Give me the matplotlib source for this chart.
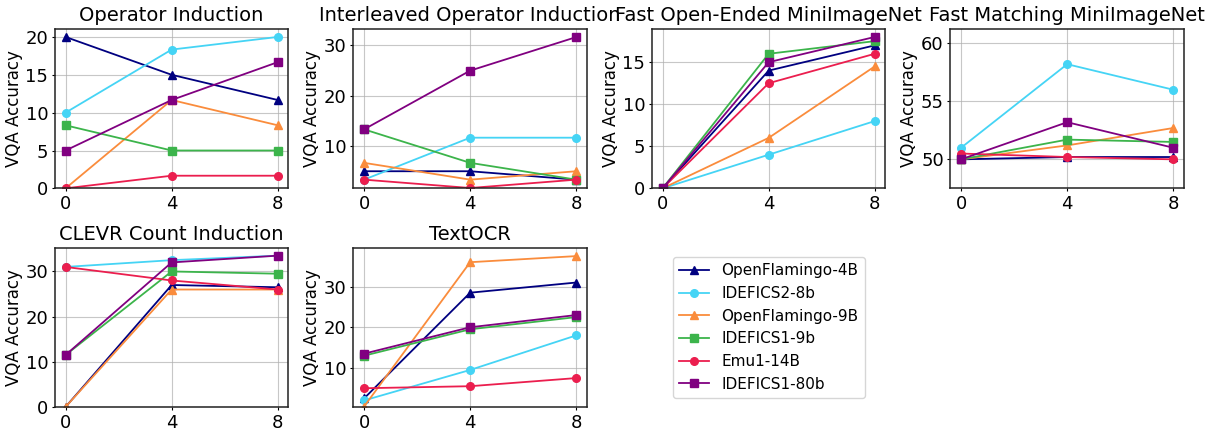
import matplotlib.pyplot as plt
from matplotlib.ticker import MultipleLocator

shots = [0, 4, 8]
models = ['OpenFlamingo-4B', 'IDEFICS2-8b', 'OpenFlamingo-9B',
          'IDEFICS1-9b', 'Emu1-14B', 'IDEFICS1-80b']
colors = ['#000080', '#45d4f5', '#fa8c3c', '#3cb44b', '#eb1e4e', '#800080']
markers = ['^', 'o', '^', 's', 'o', 's']

titles = ['Operator Induction', 'Interleaved Operator Induction',
          'Fast Open-Ended MiniImageNet', 'Fast Matching MiniImageNet',
          'CLEVR Count Induction', 'TextOCR']

# rows = models in the order above
operator_induction = [[20, 15, 11.67], [10, 18.33, 20], [0, 11.67, 8.33],
                      [8.33, 5, 5], [0, 1.67, 1.67], [5, 11.67, 16.67]]
interleaved_operator = [[5, 5, 3.33], [3.33, 11.67, 11.67], [6.67, 3.33, 5],
                        [13.33, 6.67, 3.33], [3.33, 1.67, 3.33], [13.33, 25, 31.67]]
fast_open_ended = [[0, 14, 17], [0, 4, 8], [0, 6, 14.5],
                   [0, 16, 17.5], [0, 12.5, 16], [0, 15, 18]]
fast_matching = [[50, 50.2, 50.2], [51, 58.2, 56], [50, 51.2, 52.7],
                 [50, 51.7, 51.5], [50.5, 50.2, 50], [50, 53.2, 51]]
clevr_count = [[0, 27, 26.5], [31, 32.5, 33.5], [0, 26, 26],
               [11.5, 30, 29.5], [31, 28, 26], [11.5, 32, 33.5]]
textocr = [[2.5, 28.5, 31], [2, 9.5, 18], [0.5, 36, 37.5],
           [13, 19.5, 22.5], [5, 5.5, 7.5], [13.5, 20, 23]]

all_data = [operator_induction, interleaved_operator, fast_open_ended,
            fast_matching, clevr_count, textocr]
ylims = [(0, 21), (1.6, 33.2), (0, 18.9), (47.5, 61.2), (0, 35.2), (0.4, 39.5)]
ysteps = [5, 10, 5, 5, 10, 10]

fig, axes = plt.subplots(2, 4, figsize=(12.13, 4.32), dpi=100)
plt.subplots_adjust(left=0.0453, right=0.976, top=0.932, bottom=0.058,
                    wspace=0.279, hspace=0.375)
axes = axes.flatten()

for k in range(6):
    ax = axes[k]
    for m in range(len(models)):
        ax.plot(shots, all_data[k][m], color=colors[m], marker=markers[m],
                label=models[m], linewidth=1.3, markersize=5.5)
    ax.set_title(titles[k], fontsize=14)
    ax.set_ylabel('VQA Accuracy', fontsize=12, labelpad=2)
    ax.set_xticks(shots)
    ax.yaxis.set_major_locator(MultipleLocator(ysteps[k]))
    ax.tick_params(labelsize=13, length=2.5, pad=2.3)
    ax.set_ylim(ylims[k])
    ax.grid(True, color='#b0b0b0', alpha=0.7)
    for s in ax.spines.values():
        s.set_color('#222222')
        s.set_linewidth(1.1)

handles, labels = axes[0].get_legend_handles_labels()
axes[6].axis('off')
axes[7].axis('off')
axes[6].legend(handles, labels, loc='center', fontsize=11)

plt.savefig('out.png', dpi=100)
